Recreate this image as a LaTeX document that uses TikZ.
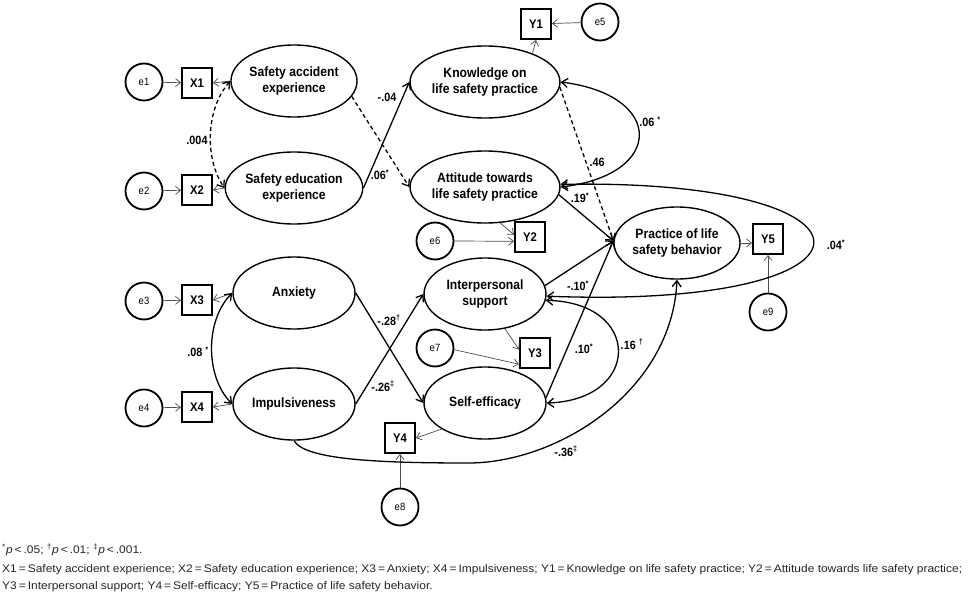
\documentclass[tikz,border=0pt]{standalone}
\usepackage{fontspec}
\setmainfont{Liberation Sans}
\newfontfamily\dfont{Liberation Sans}[FakeStretch=0.9]
\usetikzlibrary{shapes.geometric,arrows.meta}
\newsavebox{\ftmeasurebox}
\newcommand{\ftlineone}{\textsuperscript{*}\textit{p}\,<\,.05; \textsuperscript{†}\textit{p}\,<\,.01; \textsuperscript{‡}\textit{p}\,<\,.001.}
\newcommand{\ftlinetwo}{X1\,=\,Safety accident experience; X2\,=\,Safety education experience; X3\,=\,Anxiety; X4\,=\,Impulsiveness; Y1\,=\,Knowledge on life safety practice; Y2\,=\,Attitude towards life safety practice;}
\newcommand{\ftlinethree}{Y3\,=\,Interpersonal support; Y4\,=\,Self-efficacy; Y5\,=\,Practice of life safety behavior.}
\begin{document}
\sbox{\ftmeasurebox}{\fontsize{11}{13}\selectfont\ftlinetwo}%
\pgfmathsetmacro{\ftscale}{960/\the\wd\ftmeasurebox}%
\begin{tikzpicture}[x=1pt,y=-1pt,
  lat/.style={ellipse, draw, line width=1.4pt, minimum width=122pt, minimum height=72pt, inner sep=0pt, align=center, font=\dfont\bfseries\fontsize{13.5}{16}\selectfont},
  obs/.style={rectangle, draw, line width=2pt, minimum size=30pt, inner sep=0pt, font=\dfont\bfseries\fontsize{12.5}{14}\selectfont},
  err/.style={circle, draw, line width=1.8pt, minimum size=37pt, inner sep=0pt, font=\dfont\fontsize{10.5}{12}\selectfont},
  thinarr/.style={-{Straight Barb[length=5pt,width=8pt]}, line width=0.7pt, draw=black!70},
  patharr/.style={-{Straight Barb[length=6pt,width=9pt]}, line width=1.3pt},
  covarr/.style={{Straight Barb[length=6pt,width=9pt]}-{Straight Barb[length=6pt,width=9pt]}, line width=1.3pt},
  dashln/.style={dash pattern=on 4pt off 3pt},
  coef/.style={inner sep=0pt, font=\dfont\bfseries\fontsize{12}{14}\selectfont},
  foot/.style={inner sep=0pt, anchor=base west, text=black!85, font=\fontsize{11}{13}\selectfont}]
\fill[white] (0,0) rectangle (969,597);
\useasboundingbox (0,0) rectangle (969,597);

% latent variables
\node[lat] (sa)  at (294,81)  {Safety accident\\experience};
\node[lat] (se)  at (294,188) {Safety education\\experience};
\node[lat] (anx) at (294,293) {Anxiety};
\node[lat] (imp) at (294,404) {Impulsiveness};
\node[lat] (kn)  at (485,82)  {Knowledge on\\life safety practice};
\node[lat] (att) at (485,187) {Attitude towards\\life safety practice};
\node[lat] (ip)  at (485,294) {Interpersonal\\support};
\node[lat] (sef) at (485,403) {Self-efficacy};
\node[lat] (pr)  at (677,243) {Practice of life\\safety behavior};

% observed
\node[obs] (x1) at (197,83)  {X1};
\node[obs] (x2) at (197,190) {X2};
\node[obs] (x3) at (197,300) {X3};
\node[obs] (x4) at (197,407) {X4};
\node[obs] (y1) at (536,24)  {Y1};
\node[obs] (y2) at (530,237) {Y2};
\node[obs] (y3) at (535,353) {Y3};
\node[obs] (y4) at (400,438) {Y4};
\node[obs] (y5) at (768,239) {Y5};

% errors
\node[err] (e1) at (144,82)  {e1};
\node[err] (e2) at (144,191) {e2};
\node[err] (e3) at (144,301) {e3};
\node[err] (e4) at (144,408) {e4};
\node[err] (e5) at (600,22)  {e5};
\node[err] (e6) at (435,241) {e6};
\node[err] (e7) at (435,348) {e7};
\node[err] (e8) at (400,507) {e8};
\node[err] (e9) at (768,312) {e9};

% measurement arrows
\draw[thinarr] (e1) -- (x1);
\draw[thinarr] (e2) -- (x2);
\draw[thinarr] (e3) -- (x3);
\draw[thinarr] (e4) -- (x4);
\draw[thinarr] (sa.west) -- (x1.east);
\draw[thinarr] (se.west) -- (x2.east);
\draw[thinarr] (anx.west) -- (x3.east);
\draw[thinarr] (imp.west) -- (x4.east);
\draw[thinarr] (kn.31) -- (y1.south);
\draw[thinarr] (e5) -- (y1);
\draw[thinarr] (att.-67) -- (y2.172);
\draw[thinarr] (e6.east) -- (y2.-165);
\draw[thinarr] (ip.-60) -- (y3.168);
\draw[thinarr] (e7.-5) -- (y3.-145);
\draw[thinarr] (sef.-149) -- (y4.east);
\draw[thinarr] (e8) -- (y4);
\draw[thinarr] (pr.east) -- (pr.east -| y5.west);
\draw[thinarr] (e9) -- (y5);

% covariances among exogenous
\draw[covarr, dashln] (sa.west) .. controls (205,110) and (205,160) .. (se.west);
\draw[covarr] (anx.west) .. controls (205,320) and (205,377) .. (imp.west);

% structural paths
\draw[patharr, dashln] (sa.-15) -- (att.west);
\draw[patharr] (se.east) -- (kn.west);
\draw[patharr] (anx.east) -- (sef.west);
\draw[patharr] (imp.east) -- (ip.west);
\draw[patharr, dashln] (kn.-4) -- (pr.178);
\draw[patharr] (att.-6) -- (pr.178);
\draw[patharr] (ip.8) -- (pr.178);
\draw[patharr] (sef.5) -- (pr.178);
\draw[patharr] (imp.south) .. controls (305,460) and (380,463) .. (470,463)
                          .. controls (560,462) and (672,390) .. (pr.south);

% covariances among mediators
\draw[covarr] (kn.east) .. controls (665,95) and (665,175) .. (att.east);
\draw[covarr] (att.2) .. controls (900,178) and (900,310) .. (ip.-2);
\draw[covarr] (ip.-6) .. controls (642,302) and (642,400) .. (sef.east);

% coefficients
\node[coef] (c1)  at (387,97)  {-.04};
\node[coef] (c2)  at (380,175) {.06\textsuperscript{*}};
\node[coef] (c3)  at (197,140) {.004};
\node[coef] (c4)  at (198,352) {.08 \textsuperscript{*}};
\node[coef] (c5)  at (650,122) {.06 \textsuperscript{*}};
\node[coef] (c6)  at (597,162) {.46};
\node[coef] (c7)  at (580,198) {.19\textsuperscript{*}};
\node[coef] (c8)  at (578,286) {-.10\textsuperscript{*}};
\node[coef] (c9)  at (584,349) {.10\textsuperscript{*}};
\node[coef] (c10) at (632,344) {.16 \textsuperscript{†}};
\node[coef] (c11) at (836,245) {.04\textsuperscript{*}};
\node[coef] (c12) at (389,320) {-.28\textsuperscript{†}};
\node[coef] (c13) at (383,386) {-.26\textsuperscript{‡}};
\node[coef] (c14) at (566,451) {-.36\textsuperscript{‡}};

% footnote
\node[foot] (f1) at (2,553) {\scalebox{\ftscale}[1]{\ftlineone}};
\node[foot] (f2) at (2,572) {\scalebox{\ftscale}[1]{\ftlinetwo}};
\node[foot] (f3) at (2,589) {\scalebox{\ftscale}[1]{\ftlinethree}};
\end{tikzpicture}
\end{document}
